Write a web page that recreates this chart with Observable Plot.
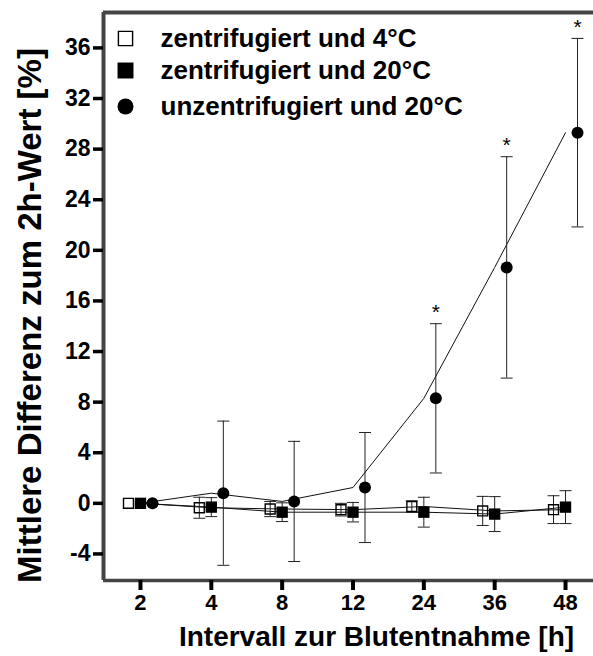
<!DOCTYPE html>
<html><head><meta charset="utf-8">
<script src="https://cdn.jsdelivr.net/npm/d3@7"></script>
<script src="https://cdn.jsdelivr.net/npm/@observablehq/plot@0.6"></script>
<style>body{margin:0;background:#fff} svg{display:block}</style>
</head><body><div id="chart"></div>
<script>
// ---- data ----
const categories = ["2", "4", "8", "12", "24", "36", "48"];
const seriesNames = ["zentrifugiert und 4°C", "zentrifugiert und 20°C", "unzentrifugiert und 20°C"];
const mean4C  = [0, -0.35, -0.45, -0.5, -0.25, -0.6, -0.5];
const err4C   = [0, 0.83, 0.6, 0.5, 0.45, 1.15, 1.1];
const mean20C = [0, -0.3, -0.7, -0.7, -0.7, -0.85, -0.3];
const err20C  = [0, 0.75, 0.74, 0.77, 1.18, 1.38, 1.3];
const meanUnz = [0, 0.8, 0.15, 1.25, 8.3, 18.65, 29.3];
const errUnz  = [0, 5.7, 4.75, 4.35, 5.9, 8.75, 7.45];
const significant = [false, false, false, false, true, true, true];
const yTicks = [-4, 0, 4, 8, 12, 16, 20, 24, 28, 32, 36];
const xLabel = "Intervall zur Blutentnahme [h]";
const yLabel = "Mittlere Differenz zum 2h-Wert [%]";

// ---- layout / style ----
const font = "'Liberation Sans', Arial, sans-serif";
const yDomain = [-6.1, 38.8];
const xDomain = [-0.522, 6.395];
const styles = [
  {symbol: "square", fill: "none", stroke: "#000", strokeWidth: 1.4, r: 5.6, dx: -12, legendR: 8},
  {symbol: "square", fill: "#000", stroke: "none", strokeWidth: 0, r: 6.4, dx: 0, legendR: 9},
  {symbol: "circle", fill: "#000", stroke: "none", strokeWidth: 0, r: 6, dx: 12, legendR: 8}
];
const legendDy = [26, 58, 94];

const means = [mean4C, mean20C, meanUnz];
const errs = [err4C, err20C, errUnz];
const seriesRows = means.map((m, k) => categories.map((c, i) => ({i, cat: c, mean: m[i], err: errs[k][i], sig: k === 2 && significant[i]})));

const capSymbol = {draw(ctx) { ctx.moveTo(-6, 0); ctx.lineTo(6, 0); }};

const marks = [];
// frame lines
marks.push(Plot.ruleY([yDomain[1]], {stroke: "#444", strokeWidth: 4}));
marks.push(Plot.ruleY([yDomain[0]], {stroke: "#444", strokeWidth: 3.5}));
marks.push(Plot.ruleX([xDomain[0]], {stroke: "#444", strokeWidth: 4}));
// axes
marks.push(Plot.axisY({ticks: yTicks, tickFormat: d => String(d), tickSize: 10, tickPadding: 3, strokeWidth: 3.5, stroke: "#000",
  fontSize: 23, fontWeight: "bold", fontFamily: font, fill: "#000", label: null}));
marks.push(Plot.axisX({ticks: d3.range(categories.length), tickFormat: i => categories[i], tickSize: 10, tickPadding: 4,
  strokeWidth: 4, stroke: "#000", fontSize: 22, fontWeight: "bold", fontFamily: font, fill: "#000", label: null}));
// series lines (through category centres)
seriesRows.forEach(rows => {
  marks.push(Plot.line(rows, {x: "i", y: "mean", stroke: "#111", strokeWidth: 1}));
});
// error bars + caps + points
seriesRows.forEach((rows, k) => {
  const s = styles[k];
  const withErr = rows.filter(d => d.err > 0);
  marks.push(Plot.ruleX(withErr, {x: "i", y1: d => d.mean - d.err, y2: d => d.mean + d.err, dx: s.dx, stroke: "#222", strokeWidth: 1}));
  marks.push(Plot.dot(withErr, {x: "i", y: d => d.mean + d.err, dx: s.dx, symbol: capSymbol, stroke: "#222", strokeWidth: 1, fill: "none"}));
  marks.push(Plot.dot(withErr, {x: "i", y: d => d.mean - d.err, dx: s.dx, symbol: capSymbol, stroke: "#222", strokeWidth: 1, fill: "none"}));
  marks.push(Plot.dot(rows, {x: "i", y: "mean", dx: s.dx, symbol: s.symbol, fill: s.fill, stroke: s.stroke, strokeWidth: s.strokeWidth, r: s.r}));
  marks.push(Plot.text(rows.filter(d => d.sig), {x: "i", y: d => d.mean + d.err, dx: s.dx, dy: -11, text: () => "*",
    fontSize: 21, fontFamily: font, fill: "#000", lineAnchor: "middle"}));
});
// legend
seriesNames.forEach((name, k) => {
  const s = styles[k];
  marks.push(Plot.dot([name], {frameAnchor: "top-left", dx: 22, dy: legendDy[k], symbol: s.symbol, fill: s.fill,
    stroke: s.stroke, strokeWidth: s.strokeWidth, r: s.legendR}));
  marks.push(Plot.text([name], {frameAnchor: "top-left", dx: 57, dy: legendDy[k], text: d => d, textAnchor: "start",
    lineAnchor: "middle", fontSize: 26, fontWeight: "bold", fontFamily: font, fill: "#000"}));
});
// axis titles
marks.push(Plot.text([xLabel], {frameAnchor: "bottom", dx: 28, dy: 57, text: d => d, textAnchor: "middle", lineAnchor: "middle",
  fontSize: 28, fontWeight: "bold", fontFamily: font, fill: "#000"}));
marks.push(Plot.text([yLabel], {frameAnchor: "left", dx: -73, dy: 19, rotate: -90, text: d => d, textAnchor: "middle", lineAnchor: "middle",
  fontSize: 33, fontWeight: "bold", fontFamily: font, fill: "#000"}));

const chart = Plot.plot({
  width: 593, height: 656,
  marginLeft: 103, marginRight: 0, marginTop: 12, marginBottom: 76,
  style: {fontFamily: font, background: "#fff", overflow: "visible"},
  x: {type: "linear", domain: xDomain, axis: null},
  y: {domain: yDomain, axis: null},
  marks
});
document.getElementById("chart").appendChild(chart);
</script>
</body></html>
